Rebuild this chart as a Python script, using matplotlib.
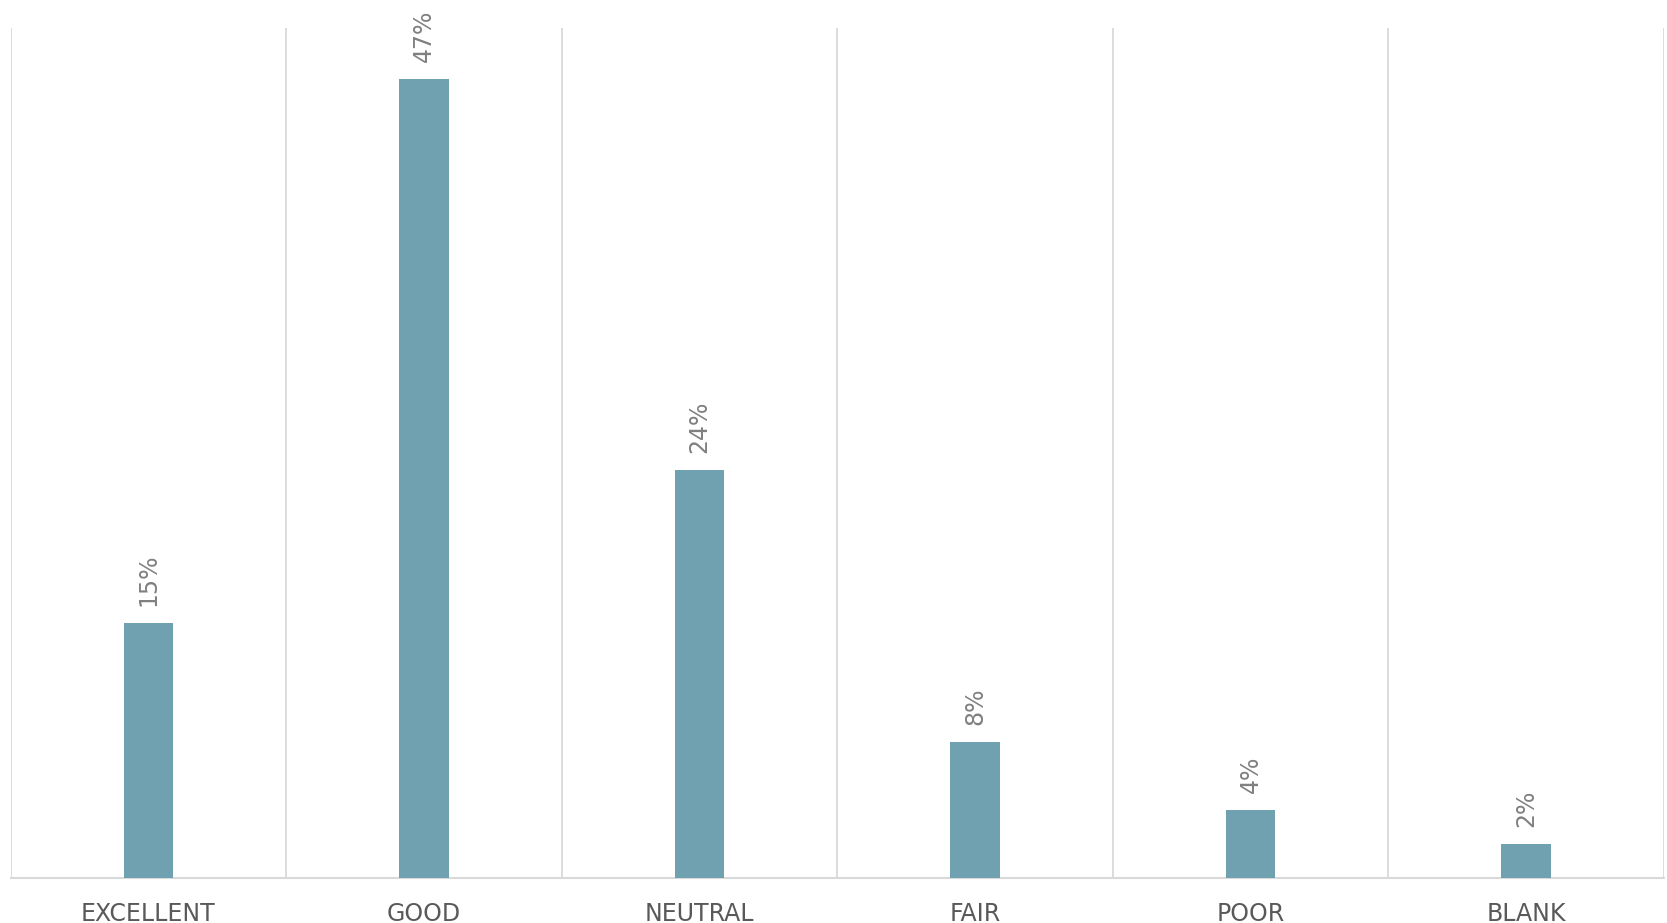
import matplotlib
matplotlib.use("Agg")
import matplotlib.pyplot as plt

categories = ["EXCELLENT", "GOOD", "NEUTRAL", "FAIR", "POOR", "BLANK"]
percents = [15, 47, 24, 8, 4, 2]

bar_color = "#6fa1b0"
grid_color = "#d9d9d9"

plt.rcParams['font.family'] = ['DejaVu Sans']

fig = plt.figure(figsize=(16.67, 9.23), dpi=100)
ax = fig.add_axes([0.0064, 0.0488, 0.9918, 0.921])

x = range(len(categories))
bars = ax.bar(x, percents, width=0.18, color=bar_color, zorder=3)

for rect, p in zip(bars, percents):
    ax.annotate(f"{p}%", (rect.get_x() + rect.get_width() / 2, rect.get_height()),
                xytext=(0, 12), textcoords="offset points",
                rotation=90, ha="center", va="bottom",
                fontsize=17, color="#808080")

ax.set_xlim(-0.5, len(categories) - 0.5)
ax.set_ylim(0, 50)

# category separators
for b in [i - 0.5 for i in range(len(categories) + 1)]:
    ax.axvline(b, color=grid_color, linewidth=1.3, zorder=1)

ax.set_xticks(list(x))
ax.set_xticklabels(categories, fontsize=17, color="#595959")
ax.tick_params(axis="x", length=0, pad=17)
ax.set_yticks([])

for side in ["top", "left", "right"]:
    ax.spines[side].set_visible(False)
ax.spines["bottom"].set_color(grid_color)
ax.spines["bottom"].set_linewidth(1.5)

fig.savefig("out.png", dpi=100)
